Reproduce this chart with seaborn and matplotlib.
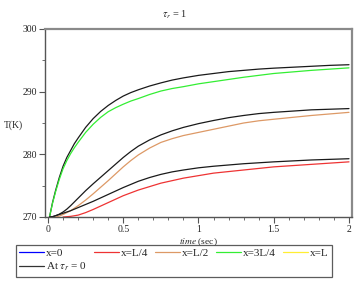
import numpy as np
import pandas as pd
import matplotlib
matplotlib.use("Agg")
import matplotlib.pyplot as plt
from matplotlib.lines import Line2D
from matplotlib.ticker import MultipleLocator, FuncFormatter
import seaborn as sns

# Values (time in sec, temperature in K)
t_full = [0.01, 0.03, 0.05, 0.075, 0.1, 0.125, 0.15, 0.175, 0.2, 0.25, 0.3, 0.35, 0.4, 0.45, 0.5,
          0.55, 0.6, 0.675, 0.75, 0.825, 0.9, 1.0, 1.1, 1.2, 1.3, 1.4, 1.5, 1.625, 1.75, 1.875, 2.0]
t_tan = t_full[2:]
t_red = t_full[4:]

top_tau0 = [270, 272.3, 274.2, 276.3, 278.1, 279.5, 280.6, 281.7, 282.6, 284.3, 285.7, 286.85, 287.8, 288.6, 289.3,
            289.85, 290.3, 290.9, 291.4, 291.85, 292.2, 292.6, 292.9, 293.2, 293.4, 293.6, 293.75, 293.9, 294.05, 294.2, 294.3]
x_3L4 = [270, 272.2, 274.0, 276.0, 277.7, 279.0, 280.1, 281.05, 281.9, 283.5, 284.8, 285.9, 286.8, 287.45, 288.0,
         288.5, 288.9, 289.55, 290.1, 290.5, 290.8, 291.25, 291.6, 291.95, 292.3, 292.6, 292.9, 293.15, 293.4, 293.6, 293.8]
mid_tau0 = [270, 270.05, 270.2, 270.45, 270.8, 271.25, 271.8, 272.4, 273.0, 274.2, 275.3, 276.35, 277.4, 278.45, 279.5,
            280.45, 281.3, 282.3, 283.1, 283.75, 284.3, 284.9, 285.4, 285.85, 286.2, 286.5, 286.7, 286.9, 287.1, 287.2, 287.3]
x_L2 = [270, 270.15, 270.4, 270.7, 271.0, 271.4, 271.8, 272.7, 273.7, 274.75, 275.8, 276.9, 278.0,
        279.0, 279.9, 281.0, 281.9, 282.5, 283.0, 283.5, 284.0, 284.5, 285.0, 285.35, 285.6, 285.9, 286.2, 286.45, 286.7]
low_tau0 = [270, 270.05, 270.2, 270.4, 270.6, 270.8, 271.0, 271.25, 271.5, 272.0, 272.5, 273.05, 273.6, 274.15, 274.7,
            275.2, 275.7, 276.3, 276.8, 277.2, 277.5, 277.85, 278.1, 278.3, 278.5, 278.65, 278.8, 278.95, 279.1, 279.2, 279.3]
x_L4 = [270, 270.05, 270.1, 270.2, 270.3, 270.7, 271.2, 271.75, 272.3, 272.85, 273.4,
        273.85, 274.3, 274.85, 275.4, 275.8, 276.2, 276.6, 277.0, 277.25, 277.5, 277.75, 278.0, 278.2, 278.4, 278.6, 278.8]

legend_labels = ["x=0", "x=L/4", "x=L/2", "x=3L/4", "x=L", r"At $\tau_r$ = 0"]
legend_colors = ["#0000ff", "#ee3333", "#dd9966", "#33ee33", "#ffee33", "#333333"]

df = pd.concat([
    pd.DataFrame({"t": t_full, "T": top_tau0, "curve": "tau0_top"}),
    pd.DataFrame({"t": t_full, "T": x_3L4, "curve": "3L/4"}),
    pd.DataFrame({"t": t_full, "T": mid_tau0, "curve": "tau0_mid"}),
    pd.DataFrame({"t": t_tan, "T": x_L2, "curve": "L/2"}),
    pd.DataFrame({"t": t_full, "T": low_tau0, "curve": "tau0_low"}),
    pd.DataFrame({"t": t_red, "T": x_L4, "curve": "L/4"}),
])
palette = {"tau0_top": "#1a1a1a", "3L/4": "#33ee33", "tau0_mid": "#1a1a1a",
           "L/2": "#dd9966", "tau0_low": "#1a1a1a", "L/4": "#ee3333"}

sns.set_style("white")
plt.rcParams["font.family"] = ["Liberation Serif", "DejaVu Serif"]
plt.rcParams["mathtext.fontset"] = "stix"
plt.rcParams["font.size"] = 7

fig = plt.figure(figsize=(3.57, 2.83), dpi=100)
ax = fig.add_axes([45 / 357, 1 - 217 / 283, 307 / 357, 188 / 283])

sns.lineplot(data=df, x="t", y="T", hue="curve", palette=palette, legend=False,
             linewidth=0.9, sort=False, ax=ax)

ax.set_xlim(-0.02, 2.02)
ax.set_ylim(270, 300)
ax.xaxis.set_major_locator(MultipleLocator(0.5))
ax.xaxis.set_minor_locator(MultipleLocator(0.1))
ax.yaxis.set_major_locator(MultipleLocator(10))
ax.yaxis.set_minor_locator(MultipleLocator(5))
ax.xaxis.set_major_formatter(FuncFormatter(lambda v, p: f"{v:g}"))
ax.tick_params(axis="both", which="major", direction="out", length=4, width=0.8,
               color="#555555", labelsize=7, pad=2)
ax.tick_params(axis="both", which="minor", direction="out", length=2.5, width=0.6,
               color="#555555")
ax.tick_params(axis="x", which="major", pad=2)
ax.tick_params(left=True, bottom=True, which="both")

for side in ["left", "bottom"]:
    ax.spines[side].set_color("#555555")
    ax.spines[side].set_linewidth(1.0)
for side in ["top", "right"]:
    ax.spines[side].set_color("#8a8a8a")
    ax.spines[side].set_linewidth(1.6)

ax.set_xlabel(r"$\mathit{time}$ (sec)", fontsize=6.8)
ax.xaxis.set_label_coords(0.5, -0.132)
ax.xaxis.label.set_va("center")
ax.set_ylabel("T(K)", rotation=0, fontsize=7, ha="left", va="center")
ax.yaxis.set_label_coords(-0.135, 0.49)

fig.text(175 / 357, 1 - 15 / 283, r"$\tau_r$ = 1", ha="center", va="center", fontsize=7.5)

handles = [Line2D([], [], color=c, lw=0.9) for c in legend_colors]
order = [0, 5, 1, 2, 3, 4]
leg = fig.legend([handles[i] for i in order], [legend_labels[i] for i in order],
                 ncol=5, loc="upper left", bbox_to_anchor=(15.5 / 357, 1 - 244.5 / 283),
                 frameon=True, fancybox=False, fontsize=8, handlelength=2.25,
                 handletextpad=0.2, columnspacing=0.6, borderpad=0.3,
                 labelspacing=0.3, borderaxespad=0)
leg.get_frame().set_edgecolor("#333333")
leg.get_frame().set_linewidth(0.9)

fig.savefig("out.png", dpi=100)
